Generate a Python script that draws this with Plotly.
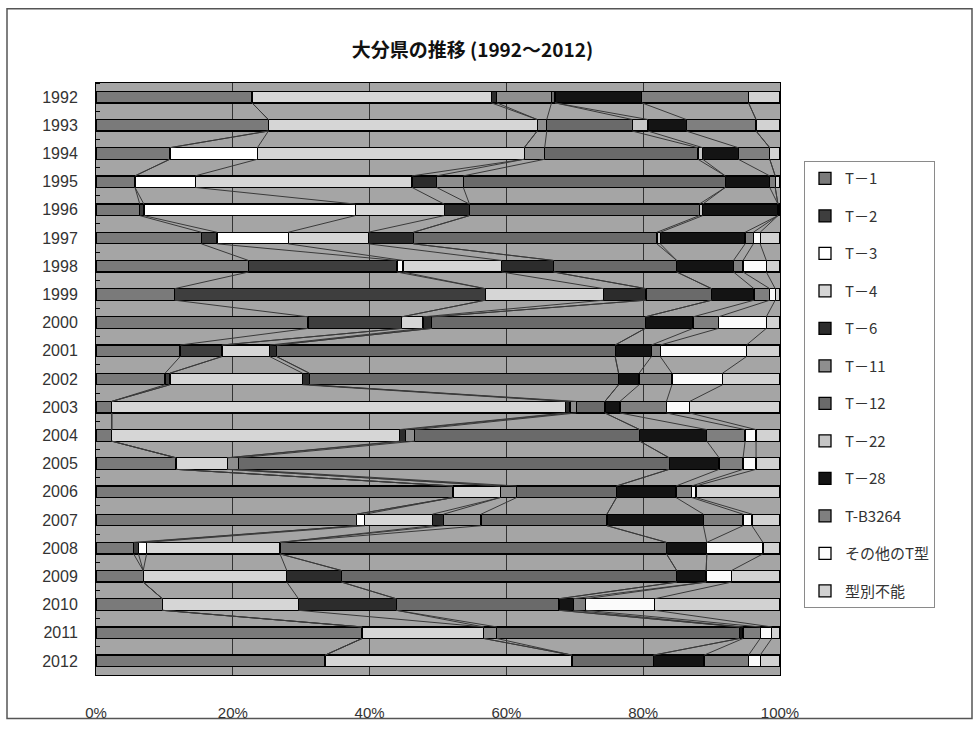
import numpy as np
import plotly.graph_objects as go

# ---- data: share (%) of each T-type per year ----
years = [str(y) for y in range(1992, 2013)]
series_names = ["T－1", "T－2", "T－3", "T－4", "T－6", "T－11", "T－12",
                "T－22", "T－28", "T-B3264", "その他のT型", "型別不能"]

t1 = [22.8, 25.2, 10.8, 5.7, 6.4, 15.4, 22.3, 11.5, 31.0, 12.3, 10.1,
      2.3, 2.3, 11.7, 52.2, 38.1, 5.5, 6.9, 9.7, 38.9, 33.5]
t2 = [0, 0, 0, 0, 0.6, 2.3, 21.7, 45.4, 13.7, 6.1, 0.7,
      0, 0, 0, 0, 0, 0.7, 0, 0, 0, 0]
t3 = [0, 0, 12.8, 8.8, 30.9, 10.4, 0.9, 0, 0, 0, 0,
      0, 0, 0, 0, 1.2, 1.2, 0, 0, 0, 0]
t4 = [35.0, 39.3, 39.0, 31.7, 13.0, 11.7, 14.4, 17.3, 3.1, 7.0, 19.4,
      66.3, 42.1, 7.5, 6.9, 9.9, 19.5, 21.0, 19.9, 17.8, 36.1]
t6 = [0.8, 0, 0, 3.6, 3.7, 6.6, 7.6, 6.2, 1.3, 1.0, 1.0,
      0.7, 0.8, 0, 0, 1.6, 0, 8.0, 14.3, 0, 0]
t11 = [8.0, 1.4, 3.0, 3.9, 0, 0, 0, 0, 0, 0, 0,
       0.9, 1.4, 1.6, 2.4, 5.5, 0, 0, 0, 1.9, 0]
t12 = [0.5, 12.5, 22.4, 38.3, 33.6, 35.6, 18.0, 9.6, 31.2, 49.5, 45.2,
       4.2, 32.9, 63.0, 14.6, 18.4, 56.5, 49.0, 23.8, 35.5, 11.9]
t22 = [0, 2.3, 0.7, 0, 0.5, 0.5, 0, 0, 0, 0, 0,
       0, 0, 0, 0, 0, 0, 0, 0, 0, 0]
t28 = [12.7, 5.6, 5.2, 6.5, 11.0, 12.4, 8.3, 6.2, 7.0, 5.3, 3.0,
       2.2, 9.8, 7.3, 8.7, 14.1, 5.9, 4.3, 2.1, 0.5, 7.4]
tb3264 = [15.6, 10.2, 4.6, 0.8, 0, 1.2, 1.4, 2.3, 3.7, 1.3, 4.8,
          6.8, 5.6, 3.5, 2.3, 5.8, 0, 0, 1.8, 2.5, 6.5]
other_t = [0, 0, 0, 0, 0, 1.0, 3.4, 0.8, 7.0, 12.6, 7.4,
           3.4, 1.6, 1.9, 0.6, 1.3, 8.2, 3.7, 10.1, 1.7, 1.7]
untypable = [4.6, 3.5, 1.5, 0.7, 0.3, 2.9, 2.0, 0.7, 2.0, 4.9, 8.4,
             13.2, 3.5, 3.5, 12.3, 4.1, 2.5, 7.1, 18.3, 1.2, 2.9]

x_ticks = [0, 20, 40, 60, 80, 100]
x_ticktext = ["0%", "20%", "40%", "60%", "80%", "100%"]

series_values = [t1, t2, t3, t4, t6, t11, t12, t22, t28, tb3264, other_t, untypable]

# grayscale fills, one per type
fills = ["#7a7a7a", "#3e3e3e", "#ffffff", "#d6d6d6", "#2c2c2c", "#8e8e8e",
         "#6a6a6a", "#c6c6c6", "#141414", "#7f7f7f", "#fbfbfb", "#d2d2d2"]

FONT_JP = "Liberation Sans, Noto Sans CJK JP, sans-serif"
BAR_W = 0.41

pos = np.arange(len(years))
vals = np.array(series_values, dtype=float)
shares = vals / vals.sum(axis=0) * 100.0
cum = np.cumsum(shares, axis=0)

fig = go.Figure()

# series lines joining the segment boundaries of neighbouring bars
for k in range(len(series_names) - 1):
    xs, ys = [], []
    for i in range(len(years) - 1):
        xs += [cum[k, i], cum[k, i + 1], None]
        ys += [pos[i] + BAR_W / 2, pos[i + 1] - BAR_W / 2, None]
    fig.add_trace(go.Scatter(
        x=xs, y=ys, mode="lines", showlegend=False, hoverinfo="skip",
        line=dict(color="#3a3a3a", width=1),
    ))

# the 100% stacked bars
for k, name in enumerate(series_names):
    fig.add_trace(go.Bar(
        y=pos, x=shares[k], name=name, orientation="h", width=BAR_W,
        legendgroup=name,
        marker=dict(color=fills[k], line=dict(color="#000000", width=1.3)),
    ))

fig.update_layout(
    width=976, height=733,
    barmode="stack",
    margin=dict(l=96, r=196, t=83, b=52),
    paper_bgcolor="#ffffff",
    plot_bgcolor="#a5a5a5",
    font=dict(family=FONT_JP, size=15, color="#222222"),
    title=dict(
        text="<b>大分県の推移 (1992～2012)</b>",
        font=dict(family="Noto Sans CJK JP, sans-serif", size=19, color="#111111"),
        x=0.484, xref="container", xanchor="center",
        y=1 - 50 / 733, yref="container", yanchor="middle",
    ),
    legend=dict(
        x=(804 - 96) / 684, xanchor="left",
        y=(681 - 162) / 598, yanchor="top",
        bgcolor="#ffffff", bordercolor="#8a8a8a", borderwidth=1,
        font=dict(family="Noto Sans CJK JP, sans-serif", size=15, color="#333333"),
        tracegroupgap=15, itemwidth=30,
        traceorder="grouped",
    ),
    xaxis=dict(
        range=[0, 100], tickvals=x_ticks, ticktext=x_ticktext,
        showgrid=True, gridcolor="#333333", gridwidth=1,
        showline=True, linecolor="#000000", linewidth=1, mirror=True,
        ticks="", ticklabelstandoff=24, zeroline=False,
        tickfont=dict(size=15, color="#333333"),
    ),
    yaxis=dict(
        range=[len(years) - 0.5, -0.5],
        tickvals=pos, ticktext=years,
        showgrid=False, zeroline=False,
        showline=True, linecolor="#000000", linewidth=1, mirror=True,
        ticks="", ticklabelstandoff=14,
        tickfont=dict(size=16, color="#333333"),
        minor=dict(tickvals=list(np.arange(-0.5, len(years), 1.0)),
                   ticks="inside", ticklen=4, tickcolor="#000000", showgrid=False),
    ),
    shapes=[dict(
        type="rect", xref="paper", yref="paper",
        x0=(7 - 96) / 684, x1=(972 - 96) / 684,
        y0=(681 - 725) / 598, y1=(681 - 8) / 598,
        line=dict(color="#555555", width=1.5), fillcolor="rgba(0,0,0,0)",
        layer="below",
    )],
)

fig.write_html("out.html")
